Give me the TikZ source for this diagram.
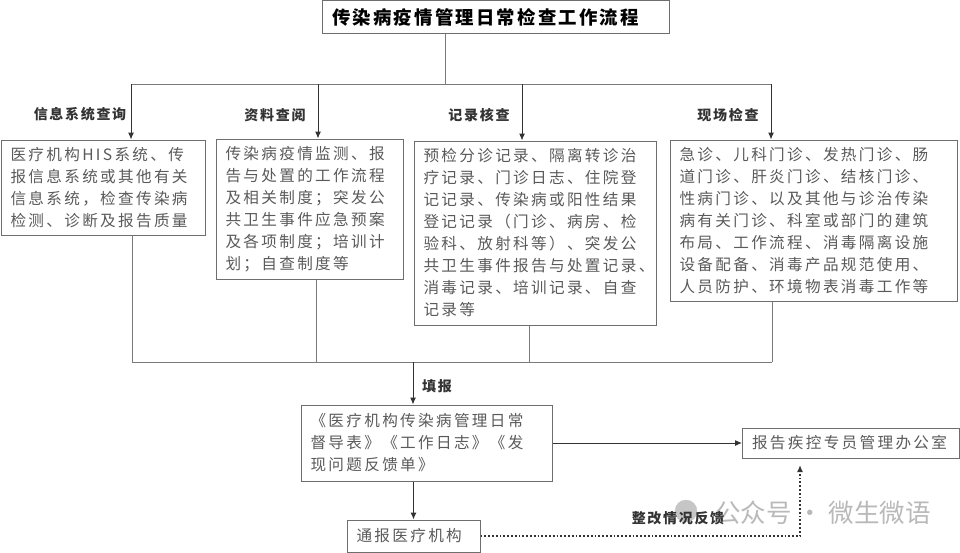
\documentclass[tikz,border=0pt]{standalone}
\usepackage{fontspec}
\usetikzlibrary{arrows.meta}
\setmainfont{Noto Sans CJK SC}
\newfontfamily\boxfont[LetterSpace=15]{Noto Sans CJK SC}
\newfontfamily\headfont[LetterSpace=12]{Noto Sans CJK SC}
\definecolor{boxtext}{HTML}{5A5A5A}
\definecolor{boxline}{HTML}{6E6E6E}
\definecolor{busgray}{HTML}{7A7A7A}
\definecolor{flowdark}{HTML}{333333}
\tikzset{
	checkbox/.style={draw=boxline, line width=1pt, fill=white, text=boxtext, align=left, inner xsep=9.5pt, inner ysep=0pt, font=\boxfont\fontsize{15.6}{22}\selectfont},
	tagtext/.style={text=flowdark, inner sep=0pt, font=\headfont\bfseries\fontsize{14}{16}\selectfont},
	busline/.style={draw=busgray, line width=1pt},
	arrowline/.style={draw=flowdark, line width=1pt, -{Latex[length=7pt,width=6pt]}},
	dotline/.style={draw=flowdark, line width=1.8pt, dotted, -{Latex[length=7pt,width=6pt]}}
}
\begin{document}
\begin{tikzpicture}[x=1pt, y=-1pt]
	\useasboundingbox (0,0) rectangle (960,552);

	\filldraw [gray!45]	(686,511) circle (11pt);
	\node [text=gray!55, inner sep=0pt, font=\fontsize{25.5}{28}\selectfont] (markname) at (823,513) {公众号 · 微生微语};

	\node [draw=boxline, line width=1pt, text=black, align=left, text width=327pt, inner xsep=10pt, inner ysep=0pt, minimum height=33pt, font=\headfont\bfseries\fontsize{18.4}{20}\selectfont] (flowtitle) at (495.5,17) {传染病疫情管理日常检查工作流程};

	\node [checkbox, text width=185pt, minimum height=95pt] (sysbox) at (103,187.5) {医疗机构HIS系统、传\\报信息系统或其他有关\\信息系统，检查传染病\\检测、诊断及报告质量};
	\node [checkbox, text width=168pt, minimum height=140pt] (docbox) at (309.5,209) {传染病疫情监测、报\\告与处置的工作流程\\及相关制度；突发公\\共卫生事件应急预案\\及各项制度；培训计\\划；自查制度等};
	\node [checkbox, text width=223pt, minimum height=184pt] (recbox) at (535,233) {预检分诊记录、隔离转诊治\\疗记录、门诊日志、住院登\\记记录、传染病或阳性结果\\登记记录（门诊、病房、检\\验科、放射科等）、突发公\\共卫生事件报告与处置记录、\\消毒记录、培训记录、自查\\记录等};
	\node [checkbox, text width=268pt, minimum height=161pt] (sitebox) at (813.5,220.5) {急诊、儿科门诊、发热门诊、肠\\道门诊、肝炎门诊、结核门诊、\\性病门诊、以及其他与诊治传染\\病有关门诊、科室或部门的建筑\\布局、工作流程、消毒隔离设施\\设备配备、消毒产品规范使用、\\人员防护、环境物表消毒工作等};

	\node [checkbox, text width=232pt, minimum height=76pt] (formbox) at (426.5,443) {《医疗机构传染病管理日常\\督导表》《工作日志》《发\\现问题反馈单》};
	\node [checkbox, text width=198pt, minimum height=30pt] (officebox) at (851,443) {报告疾控专员管理办公室};
	\node [checkbox, text width=114pt, minimum height=32pt] (noticebox) at (413.5,536) {通报医疗机构};

	\node [tagtext] (systag) at (80,114) {信息系统查询};
	\node [tagtext] (doctag) at (275,115) {资料查阅};
	\node [tagtext] (rectag) at (479,115) {记录核查};
	\node [tagtext] (sitetag) at (728,115) {现场检查};
	\node [tagtext] (filltag) at (437,386) {填报};
	\node [tagtext] (feedtag) at (678,518) {整改情况反馈};

	\coordinate (topjoin) at (445,84);
	\coordinate (topa) at (131,84);
	\coordinate (topb) at (318,84);
	\coordinate (topc) at (522,84);
	\coordinate (topd) at (771,84);

	\coordinate (lowa) at (132,362);
	\coordinate (lowb) at (316,362);
	\coordinate (lowc) at (529,362);
	\coordinate (lowd) at (772,362);
	\coordinate (lowjoin) at (413,362);
	\coordinate (feedcorner) at (800,536);
	\coordinate (feedend) at (800,465);

	\draw [busline]		(flowtitle.south -| topjoin) -- (topjoin);
	\draw [busline]		(topa) -- (topd);

	\draw [arrowline]	(topa) -- (topa |- sysbox.north);
	\draw [arrowline]	(topb) -- (topb |- docbox.north);
	\draw [arrowline]	(topc) -- (topc |- recbox.north);
	\draw [arrowline]	(topd) -- (topd |- sitebox.north);

	\draw [busline]		(sysbox.south -| lowa) -- (lowa);
	\draw [busline]		(docbox.south -| lowb) -- (lowb);
	\draw [busline]		(recbox.south -| lowc) -- (lowc);
	\draw [busline]		(sitebox.south -| lowd) -- (lowd);
	\draw [busline]		(lowa) -- (lowd);

	\draw [arrowline]	(lowjoin) -- (lowjoin |- formbox.north);
	\draw [arrowline]	(formbox.east) -- (officebox.west);
	\draw [arrowline]	(formbox.south -| noticebox.north) -- (noticebox.north);
	\draw [dotline]		(noticebox.east) -- (feedcorner) -- (feedend);
\end{tikzpicture}
\end{document}
